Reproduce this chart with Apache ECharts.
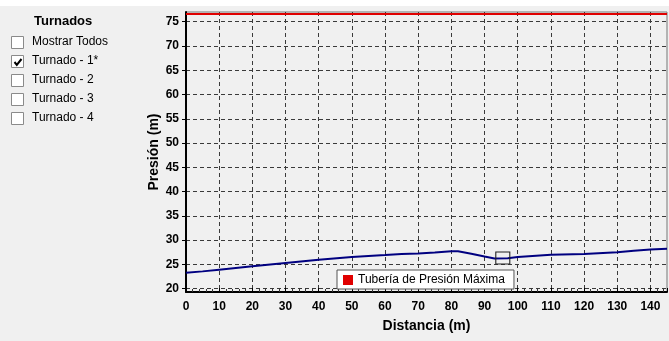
<!DOCTYPE html>
<html>
<head>
<meta charset="utf-8">
<title>Presión vs Distancia</title>
<script src="https://cdn.jsdelivr.net/npm/echarts@6/dist/echarts.min.js"></script>
<style>
  html, body { margin: 0; padding: 0; background: #f0f0f0; }
  #chart { width: 669px; height: 341px; }
</style>
</head>
<body>
<div id="chart"></div>
<script>
// datos del perfil
var distancias = [0, 5, 10, 20, 30, 40, 50, 60, 65, 70, 75, 80, 82, 86, 90, 93, 97, 100, 110, 120, 130, 135, 140, 145]
var presiones = [23.25, 23.55, 23.9, 24.6, 25.3, 25.95, 26.5, 26.9, 27.15, 27.25, 27.45, 27.7, 27.7, 27.2, 26.6, 26.2, 26.25, 26.5, 27.0, 27.15, 27.5, 27.8, 28.05, 28.2]

// tuberia de presion maxima
var distMaxima = [0, 145]
var presionMaxima = [76.6, 76.6]

// punto seleccionado
var puntoActual = [95.5, 26.3]

var turnados = ['Mostrar Todos', 'Turnado - 1*', 'Turnado - 2', 'Turnado - 3', 'Turnado - 4']
var turnadosMarcados = [false, true, false, false, false]

var fuente = '"Liberation Sans", Arial, sans-serif'

function armarPanel() {
  var items = [
    { type: 'rect', shape: { x: 0, y: 0, width: 669, height: 6 }, style: { fill: '#ffffff' }, silent: true },
    { type: 'text', left: 34, top: 15, style: { text: 'Turnados', font: 'bold 13px ' + fuente, fill: '#000' } }
  ]
  for (var i = 0; i < turnados.length; ++i) {
    var cy = 43 + i * 19
    items.push({
      type: 'rect',
      shape: { x: 11.5, y: cy - 6.5, width: 12, height: 12 },
      style: { fill: '#ffffff', stroke: '#8a8a8a', lineWidth: 1 }
    })
    if (turnadosMarcados[i]) {
      items.push({
        type: 'polyline',
        shape: { points: [[14.5, cy], [16.8, cy + 2.8], [21.5, cy - 3]] },
        style: { stroke: '#000', lineWidth: 2, fill: null }
      })
    }
    items.push({
      type: 'text', left: 32, top: cy - 7,
      style: { text: turnados[i], font: '12px ' + fuente, fill: '#000' }
    })
  }
  return items
}

var chart = echarts.init(document.getElementById('chart'), null, { renderer: 'canvas' })

var option = {
  backgroundColor: '#f0f0f0',
  animation: false,
  grid: {
    left: 186, right: 2, top: 12, bottom: 49,
    show: true,
    backgroundColor: '#f0f0f0',
    borderColor: '#777',
    borderWidth: 1,
    containLabel: false
  },
  legend: {
    left: 337, top: 270,
    padding: [4, 9, 3, 6],
    backgroundColor: '#ffffff',
    borderColor: '#555',
    borderWidth: 1,
    borderRadius: 0,
    itemWidth: 10, itemHeight: 10, itemGap: 5,
    icon: 'rect',
    textStyle: { fontFamily: fuente, fontSize: 12, color: '#000' },
    data: ['Tubería de Presión Máxima']
  },
  xAxis: {
    type: 'value',
    min: 0, max: 145, interval: 10,
    name: 'Distancia (m)',
    nameLocation: 'middle',
    nameGap: 27,
    nameTextStyle: { fontFamily: fuente, fontSize: 14, fontWeight: 'bold', color: '#000' },
    axisLine: { show: true, onZero: false, lineStyle: { color: '#000', width: 2 } },
    axisTick: { show: true, inside: true, length: 4, lineStyle: { color: '#000' } },
    minorTick: { show: true, splitNumber: 5, length: 3, lineStyle: { color: '#333' } },
    axisLabel: { margin: 9, fontFamily: fuente, fontSize: 12, fontWeight: 'bold', color: '#000', showMaxLabel: false },
    splitLine: { show: true, showMinLine: false, showMaxLine: false, lineStyle: { color: '#3a3a3a', type: [4, 3], width: 1 } }
  },
  yAxis: {
    type: 'value',
    min: 19.3, max: 77, splitNumber: 11,
    name: 'Presión (m)',
    nameLocation: 'middle',
    nameGap: 25,
    nameMoveOverlap: false,
    nameTextStyle: { fontFamily: fuente, fontSize: 14, fontWeight: 'bold', color: '#000' },
    axisLine: { show: true, onZero: false, lineStyle: { color: '#000', width: 2 } },
    axisTick: { show: true, inside: false, length: 4, lineStyle: { color: '#000' } },
    axisLabel: { margin: 7, fontFamily: fuente, fontSize: 12, fontWeight: 'bold', color: '#000', showMinLabel: false, showMaxLabel: false },
    splitLine: { show: true, showMinLine: false, showMaxLine: false, lineStyle: { color: '#3a3a3a', type: [4, 3], width: 1 } }
  },
  series: [
    {
      name: 'Tubería de Presión Máxima',
      type: 'line',
      symbol: 'none',
      itemStyle: { color: '#e00000' },
      lineStyle: { color: '#e00000', width: 2 },
      data: distMaxima.map(function (d, i) { return [d, presionMaxima[i]] })
    },
    {
      name: 'Presión',
      type: 'line',
      symbol: 'none',
      itemStyle: { color: '#000080' },
      lineStyle: { color: '#000080', width: 2 },
      data: distancias.map(function (d, i) { return [d, presiones[i]] })
    },
    {
      name: 'Punto',
      type: 'scatter',
      symbol: 'rect',
      symbolSize: [14, 12],
      z: 5,
      itemStyle: { color: 'transparent', borderColor: '#222', borderWidth: 1, opacity: 1 },
      data: [puntoActual]
    }
  ],
  graphic: armarPanel()
}

chart.setOption(option)
</script>
</body>
</html>
